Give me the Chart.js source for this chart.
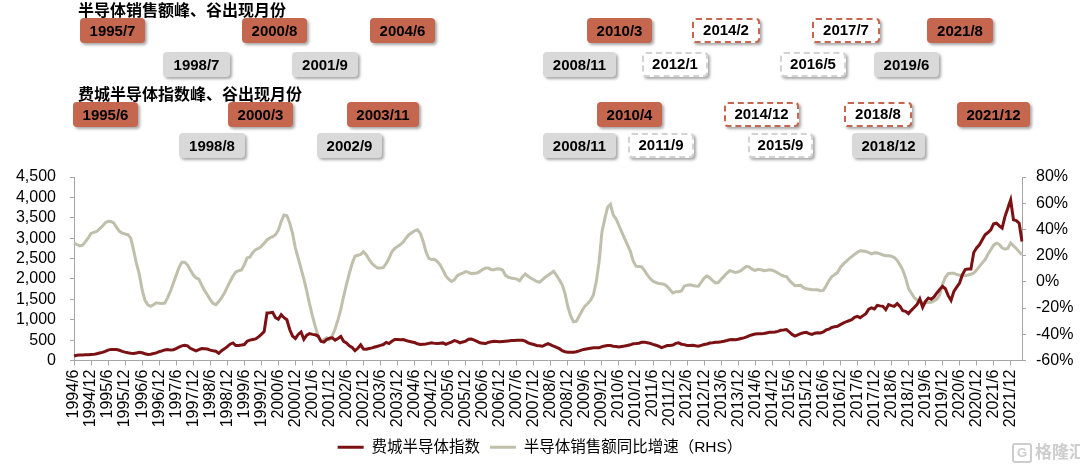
<!DOCTYPE html>
<html lang="zh-CN">
<head>
<meta charset="utf-8">
<title>费城半导体指数与半导体销售额同比增速</title>
<script src="https://cdn.jsdelivr.net/npm/chart.js@4.4.1/dist/chart.umd.min.js"></script>
<style>
  html, body { margin: 0; padding: 0; background: #fff; }
  #wrap { position: relative; width: 1080px; height: 465px; overflow: hidden; }
  #wrap canvas { position: absolute; left: 0; top: 0; }
  .note-title {
    position: absolute; left: 78px; white-space: nowrap; color: #000;
    font: bold 16px "Noto Sans CJK SC", sans-serif; line-height: 18px;
  }
  .mark {
    position: absolute; height: 25px; box-sizing: border-box;
    text-align: center; color: #000; border-radius: 4px;
    font: bold 15px "Liberation Sans", Arial, sans-serif; line-height: 25px;
    box-shadow: 2px 2px 3px rgba(0, 0, 0, 0.35);
  }
  .mark.peak { background: #C5664F; }
  .mark.trough { background: #D9D9D9; }
  .mark.peak-dash { background: #fff; border: 2.5px dashed #C5664F; line-height: 20px; }
  .mark.trough-dash { background: #fff; border: 2.5px dashed #D3D3D3; line-height: 20px; }
  .logo {
    position: absolute; left: 1012px; top: 441px; color: #cdcdcd; white-space: nowrap;
    font: bold 17px "Noto Sans CJK SC", sans-serif; line-height: 20px;
  }
  .logo span {
    display: inline-block; width: 16px; height: 16px; margin-right: 3px;
    border: 2px solid #cdcdcd; border-radius: 3px; text-align: center;
    font: bold 13px "Liberation Sans", Arial, sans-serif; line-height: 16px; vertical-align: 1px;
  }
</style>
</head>
<body>
<div id="wrap">
  <canvas id="chart" width="1080" height="465"></canvas>
  <div id="notes"></div>
  <div class="logo"><span>G</span>格隆汇</div>
</div>
<script>
// monthly data, first month 1994/6, one row per calendar year
const firstYear = 1994;
const firstMonth = 6;

// 费城半导体指数 (left axis)
const soxIndex = [
  110, 130, 135, 135, 138, 140, 145,
  150, 165, 185, 200, 225, 255, 272, 270, 268, 250, 225, 205,
  190, 178, 171, 185, 200, 190, 165, 148, 155, 170, 187, 215,
  235, 260, 269, 255, 265, 290, 330, 360, 375, 360, 300, 265,
  235, 265, 294, 290, 280, 255, 240, 228, 175, 240, 285, 340,
  400, 430, 367, 370, 378, 391, 473, 500, 515, 530, 580, 640,
  710, 1166, 1170, 1182, 1050, 1010, 1125, 1050, 1000, 760, 600, 540,
  640, 700, 520, 620, 660, 640, 630, 600, 470, 450, 513, 545,
  555, 500, 540, 590, 470, 430, 360, 320, 240, 300, 385, 280,
  275, 295, 310, 330, 350, 370, 391, 445, 416, 470, 513, 515,
  510, 513, 490, 470, 455, 440, 410, 391, 398, 405, 420, 432,
  420, 415, 425, 432, 395, 425, 450, 490, 470, 432, 455, 475,
  520, 525, 500, 470, 435, 425, 416, 445, 460, 470, 465, 457,
  465, 473, 480, 488, 492, 497, 498, 497, 475, 432, 410, 391,
  370, 360, 350, 385, 416, 385, 350, 320, 290, 240, 215, 204,
  200, 204, 215, 235, 260, 275, 290, 300, 310, 312, 310, 340,
  355, 365, 367, 350, 345, 334, 345, 355, 370, 385, 410, 416,
  425, 445, 450, 435, 420, 395, 375, 350, 315, 340, 367, 367,
  380, 420, 432, 400, 390, 370, 367, 375, 360, 350, 370, 391,
  405, 428, 435, 445, 450, 460, 473, 490, 510, 513, 510, 520,
  540, 555, 580, 610, 630, 650, 655, 658, 660, 675, 690, 695,
  700, 715, 740, 748, 758, 700, 640, 600, 630, 660, 680, 690,
  660, 640, 670, 680, 677, 700, 750, 770, 810, 830, 840, 880,
  915, 950, 975, 1003, 1060, 1084, 1050, 1100, 1150, 1260, 1289, 1264,
  1353, 1340, 1329, 1247, 1370, 1345, 1330, 1394, 1329, 1220, 1206, 1150,
  1230, 1300, 1370, 1509, 1304, 1451, 1533, 1500, 1560, 1656, 1740, 1818,
  1760, 1590, 1475, 1696, 1800, 1900, 2104, 2230, 2243, 2243, 2650, 2760,
  2837, 2960, 3082, 3138, 3204, 3351, 3367, 3300, 3245, 3530, 3735, 3938,
  3449, 3432, 3367, 2918
];

// 半导体销售额同比增速, % (right axis)
const salesYoY = [
  29.6, 28.5, 27.5, 28, 30.5, 33.5, 37,
  37.8, 38.4, 40.5, 42.5, 45, 46.2, 46, 45, 41.5, 38.5, 37.2, 36.5,
  36, 33.4, 24, 14, 6, -6, -14, -17.5, -18.7, -17.5, -16, -16.4,
  -16.5, -16.2, -12, -7, -1, 5, 11, 15, 15, 13, 9, 5.4,
  3, 2, -2.5, -6.5, -10, -13.5, -16.5, -17.4, -15, -12, -8.5, -4,
  0.3, 4.5, 7.5, 8.5, 9, 13, 18.2, 19, 22.5, 24.5, 25.5, 27,
  29.5, 32, 33.5, 34.5, 36, 39.5, 46, 51, 50.5, 45, 37, 25.8,
  18, 10, 2, -7, -17, -26, -34, -41, -45, -44, -42.7, -44,
  -41, -36, -29, -21, -11, -2, 6.5, 14, 19.5, 20.3, 21, 23,
  20.5, 17, 14, 12, 10.5, 10.5, 11, 14, 18, 23, 25.5, 27,
  28.5, 30.5, 33.5, 36, 37.5, 39, 39.7, 37, 31, 23, 18, 17,
  17.2, 15.5, 13, 9, 4.5, 2, 0.3, 1.5, 4.5, 6, 6.7, 7.8,
  7.2, 6.3, 6.5, 6.7, 8, 9.5, 10.5, 10.5, 9.3, 9.2, 10, 9.8,
  9, 5, 3.5, 3, 2.5, 2.1, 0.8, 4, 6, 4.3, 2.8, 1.6,
  0.3, -0.3, 1.6, 3.5, 5, 6.5, 8, 5, 1.5, -2.2, -9, -19,
  -26, -30.5, -30, -26, -22, -18.5, -16.5, -14, -10, 0, 15, 38,
  48, 57, 59.2, 51, 48, 43, 38, 33, 28.3, 23.5, 16, 12,
  11.8, 11.4, 8.5, 5.4, 2.5, 0.5, -0.5, -1.2, -1.5, -2, -3.5, -6,
  -8.5, -7.5, -7.5, -7, -3.3, -2.5, -2.3, -2.8, -3.1, -3.3, -0.3, 2.9,
  4.5, 3, 1, -0.8, -0.5, 2, 4.2, 6.5, 8.5, 8, 7.1, 7.6,
  8.5, 10.5, 11.8, 11.3, 9.5, 8.7, 9.6, 9.3, 8.5, 8.8, 9.2, 8.8,
  8, 6.7, 5.4, 4.5, 4, 1.2, -1, -2.9, -2.8, -2.7, -4.5, -5.3,
  -5.6, -6, -6, -6, -6.8, -6.5, -3, 1, 4, 5.5, 7.2, 11,
  13.5, 15.5, 17.5, 19.2, 21, 22.6, 23.8, 23.6, 23.2, 22.3, 21.4, 22.2,
  22, 21.3, 20.5, 19.9, 19.9, 19.6, 18.5, 16.5, 13, 9, 3, -5,
  -8.5, -12, -13.8, -15.2, -15.8, -16, -15.8, -15.6, -14.5, -13.2, -10, -2,
  3.5, 6.2, 6.5, 6.6, 5.6, 5, 4.6, 4.8, 5.2, 5.8, 6.7, 9,
  11.8, 14.5, 17, 21, 24.5, 28, 29.5, 28.5, 26, 25, 25.5, 29.6,
  27.5, 25.5, 23, 20.7
];

// month categories, e.g. "1994/6"
const months = [];
for (let i = 0; i < soxIndex.length; i++) {
  const n = firstMonth - 1 + i;
  months.push((firstYear + Math.floor(n / 12)) + "/" + (n % 12 + 1));
}

// peak / trough month labels shown above the chart
const salesPeaks = ["1995/7", "2000/8", "2004/6", "2010/3", "2014/2", "2017/7", "2021/8"];
const salesTroughs = ["1998/7", "2001/9", "2008/11", "2012/1", "2016/5", "2019/6"];
const soxPeaks = ["1995/6", "2000/3", "2003/11", "2010/4", "2014/12", "2018/8", "2021/12"];
const soxTroughs = ["1998/8", "2002/9", "2008/11", "2011/9", "2015/9", "2018/12"];

// layout of the label boxes: left edge, width, dashed (minor cycle)
const rowTops = [18, 52, 102, 133];
const rowLayout = [
  [[80, 65], [242, 65], [370, 65], [587, 65], [692, 68, true], [812, 68, true], [927, 66]],
  [[163, 67], [292, 66], [543, 73], [642, 66, true], [780, 66, true], [874, 65]],
  [[73, 65], [228, 65], [347, 72], [597, 65], [724, 75, true], [844, 68, true], [957, 73]],
  [[179, 66], [317, 65], [543, 73], [628, 66, true], [748, 65, true], [852, 73]]
];

const notes = document.getElementById("notes");
function addTitle(text, top) {
  const d = document.createElement("div");
  d.className = "note-title";
  d.style.top = top + "px";
  d.textContent = text;
  notes.appendChild(d);
}
function addRow(labels, row, isPeak) {
  labels.forEach((text, i) => {
    const [left, width, dashed] = rowLayout[row][i];
    const d = document.createElement("div");
    d.className = "mark " + (isPeak ? "peak" : "trough") + (dashed ? "-dash" : "");
    d.style.left = left + "px";
    d.style.top = rowTops[row] + "px";
    d.style.width = width + "px";
    d.textContent = text;
    notes.appendChild(d);
  });
}
addTitle("半导体销售额峰、谷出现月份", 0);
addTitle("费城半导体指数峰、谷出现月份", 84);
addRow(salesPeaks, 0, true);
addRow(salesTroughs, 1, false);
addRow(soxPeaks, 2, true);
addRow(soxTroughs, 3, false);

const axisColor = "#A6A6A6";
Chart.defaults.font.family = '"Liberation Sans", Arial, "Noto Sans CJK SC", sans-serif';
Chart.defaults.color = "#000";

new Chart(document.getElementById("chart"), {
  type: "line",
  data: {
    labels: months,
    datasets: [
      {
        label: "费城半导体指数",
        data: soxIndex,
        yAxisID: "yLeft",
        borderColor: "#7B1113",
        backgroundColor: "#7B1113",
        borderWidth: 3,
        pointRadius: 0,
        tension: 0,
      },
      {
        label: "半导体销售额同比增速（RHS）",
        data: salesYoY,
        yAxisID: "yRight",
        borderColor: "#BFBFAC",
        backgroundColor: "#BFBFAC",
        borderWidth: 3,
        pointRadius: 0,
        tension: 0,
      },
    ],
  },
  options: {
    responsive: false,
    animation: false,
    layout: { padding: { top: 177, left: 0, right: 0, bottom: 0 } },
    plugins: {
      tooltip: { enabled: false },
      legend: {
        position: "bottom",
        labels: {
          usePointStyle: true,
          pointStyle: "line",
          pointStyleWidth: 26,
          padding: 10,
          color: "#000",
          font: { size: 15.5 },
        },
      },
    },
    scales: {
      x: {
        afterFit: (s) => { s.height = 69; },
        border: { display: true, color: axisColor },
        grid: {
          drawOnChartArea: false,
          tickLength: 5,
          tickColor: (c) => (c.tick && c.tick.label ? axisColor : "rgba(0,0,0,0)"),
        },
        ticks: {
          autoSkip: false,
          minRotation: 90,
          maxRotation: 90,
          padding: 4,
          font: { size: 16 },
          callback: (v, i) => (/\/(6|12)$/.test(months[i]) ? months[i] : ""),
        },
      },
      yLeft: {
        position: "left",
        min: 0,
        max: 4500,
        afterFit: (s) => { s.width = 74; },
        border: { display: true, color: axisColor },
        grid: { drawOnChartArea: false, tickLength: 4, color: axisColor },
        ticks: {
          stepSize: 500,
          autoSkip: false,
          padding: 14,
          font: { size: 16 },
          callback: (v) => v.toLocaleString("en-US"),
        },
      },
      yRight: {
        position: "right",
        min: -60,
        max: 80,
        afterFit: (s) => { s.width = 58; },
        border: { display: true, color: axisColor },
        grid: { drawOnChartArea: false, tickLength: 4, color: axisColor },
        ticks: {
          stepSize: 20,
          autoSkip: false,
          padding: 10,
          font: { size: 16 },
          callback: (v) => v + "%",
        },
      },
    },
  },
});
</script>
</body>
</html>
